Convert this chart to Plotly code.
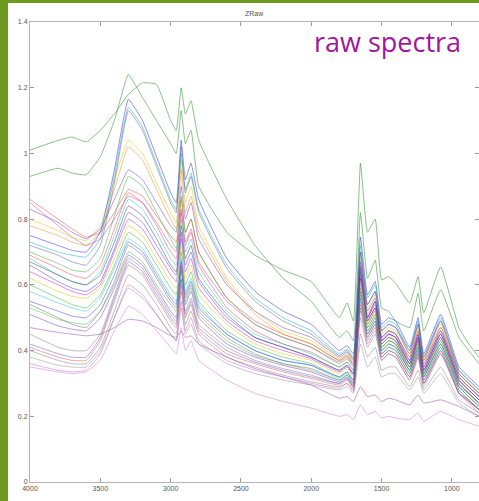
import plotly.graph_objects as go

# wavenumbers (cm-1), shared by every spectrum
wavenumber = [4000, 3800, 3700, 3600, 3500, 3400, 3300, 3200, 3100, 3000, 2960, 2925, 2895, 2855,
              2800, 2600, 2400, 2200, 2000, 1800, 1745, 1700, 1650, 1600, 1545, 1500, 1450, 1400,
              1300, 1240, 1200, 1080, 950, 880, 807]

s01 = [1.01, 1.04, 1.05, 1.035, 1.07, 1.12, 1.18, 1.215, 1.21, 1.10, 1.07, 1.20, 1.12, 1.16, 1.04, 0.86, 0.72, 0.62, 0.55, 0.44, 0.46, 0.43, 0.82, 0.62, 0.675, 0.53, 0.52, 0.49, 0.47, 0.575, 0.46, 0.585, 0.44, 0.40, 0.36]
s02 = [0.93, 0.955, 0.94, 0.935, 0.99, 1.10, 1.24, 1.17, 1.10, 1.03, 1.00, 1.13, 1.03, 1.07, 0.90, 0.76, 0.69, 0.645, 0.61, 0.50, 0.545, 0.49, 0.97, 0.76, 0.80, 0.615, 0.625, 0.605, 0.545, 0.625, 0.515, 0.655, 0.47, 0.42, 0.38]
s03 = [0.86, 0.80, 0.77, 0.745, 0.76, 0.82, 0.89, 0.87, 0.81, 0.75, 0.73, 0.86, 0.76, 0.80, 0.70, 0.56, 0.49, 0.45, 0.42, 0.37, 0.385, 0.36, 0.66, 0.50, 0.55, 0.44, 0.46, 0.45, 0.38, 0.46, 0.36, 0.47, 0.33, 0.30, 0.27]
s04 = [0.85, 0.78, 0.745, 0.72, 0.74, 0.80, 0.87, 0.85, 0.79, 0.72, 0.70, 0.82, 0.73, 0.77, 0.67, 0.55, 0.48, 0.44, 0.41, 0.365, 0.38, 0.355, 0.64, 0.49, 0.53, 0.43, 0.45, 0.44, 0.37, 0.45, 0.35, 0.46, 0.32, 0.29, 0.26]
s05 = [0.83, 0.79, 0.76, 0.74, 0.77, 0.86, 0.95, 0.92, 0.85, 0.78, 0.76, 0.90, 0.80, 0.85, 0.74, 0.60, 0.52, 0.47, 0.44, 0.38, 0.395, 0.37, 0.70, 0.54, 0.58, 0.46, 0.48, 0.47, 0.40, 0.48, 0.38, 0.49, 0.34, 0.31, 0.28]
s06 = [0.80, 0.765, 0.745, 0.735, 0.78, 0.92, 1.04, 1.00, 0.91, 0.82, 0.79, 0.98, 0.85, 0.90, 0.78, 0.62, 0.52, 0.46, 0.43, 0.375, 0.39, 0.365, 0.68, 0.53, 0.57, 0.45, 0.47, 0.46, 0.39, 0.47, 0.37, 0.48, 0.33, 0.30, 0.27]
s07 = [0.78, 0.75, 0.73, 0.72, 0.76, 0.89, 1.02, 0.98, 0.89, 0.80, 0.77, 0.95, 0.82, 0.87, 0.76, 0.61, 0.51, 0.45, 0.42, 0.37, 0.385, 0.36, 0.66, 0.51, 0.55, 0.44, 0.46, 0.45, 0.38, 0.46, 0.36, 0.47, 0.32, 0.29, 0.26]
s08 = [0.75, 0.72, 0.705, 0.70, 0.76, 0.95, 1.165, 1.10, 0.99, 0.88, 0.85, 1.04, 0.92, 0.97, 0.86, 0.68, 0.58, 0.52, 0.48, 0.40, 0.415, 0.39, 0.745, 0.57, 0.61, 0.48, 0.50, 0.49, 0.41, 0.50, 0.39, 0.51, 0.35, 0.32, 0.29]
s09 = [0.73, 0.70, 0.69, 0.685, 0.74, 0.93, 1.14, 1.08, 0.97, 0.86, 0.83, 1.00, 0.89, 0.94, 0.83, 0.66, 0.56, 0.50, 0.46, 0.39, 0.405, 0.38, 0.72, 0.56, 0.60, 0.47, 0.49, 0.48, 0.40, 0.49, 0.38, 0.50, 0.34, 0.31, 0.28]
s10 = [0.72, 0.69, 0.67, 0.66, 0.72, 0.91, 1.13, 1.07, 0.96, 0.85, 0.82, 1.02, 0.88, 0.93, 0.82, 0.65, 0.55, 0.49, 0.45, 0.385, 0.40, 0.375, 0.70, 0.54, 0.58, 0.46, 0.48, 0.47, 0.39, 0.48, 0.37, 0.49, 0.33, 0.30, 0.27]
s11 = [0.70, 0.665, 0.645, 0.64, 0.68, 0.81, 0.93, 0.90, 0.82, 0.74, 0.71, 0.87, 0.76, 0.80, 0.70, 0.56, 0.48, 0.44, 0.41, 0.36, 0.375, 0.35, 0.64, 0.49, 0.53, 0.42, 0.44, 0.43, 0.36, 0.44, 0.34, 0.45, 0.31, 0.28, 0.25]
s12 = [0.69, 0.65, 0.63, 0.62, 0.66, 0.77, 0.88, 0.85, 0.78, 0.70, 0.68, 0.83, 0.72, 0.76, 0.66, 0.53, 0.46, 0.42, 0.395, 0.35, 0.365, 0.34, 0.62, 0.48, 0.52, 0.41, 0.43, 0.42, 0.35, 0.43, 0.33, 0.44, 0.30, 0.27, 0.24]
s13 = [0.68, 0.63, 0.61, 0.60, 0.64, 0.75, 0.86, 0.83, 0.76, 0.68, 0.66, 0.80, 0.70, 0.74, 0.64, 0.52, 0.45, 0.42, 0.39, 0.35, 0.365, 0.34, 0.60, 0.47, 0.51, 0.41, 0.43, 0.42, 0.35, 0.42, 0.33, 0.43, 0.30, 0.27, 0.24]
s14 = [0.67, 0.63, 0.61, 0.60, 0.63, 0.73, 0.84, 0.81, 0.74, 0.66, 0.64, 0.78, 0.68, 0.72, 0.62, 0.51, 0.44, 0.41, 0.38, 0.34, 0.355, 0.33, 0.58, 0.46, 0.50, 0.40, 0.42, 0.41, 0.34, 0.41, 0.32, 0.42, 0.29, 0.26, 0.23]
s15 = [0.66, 0.61, 0.59, 0.58, 0.61, 0.71, 0.82, 0.79, 0.72, 0.65, 0.63, 0.76, 0.66, 0.70, 0.61, 0.50, 0.44, 0.41, 0.38, 0.34, 0.355, 0.33, 0.67, 0.52, 0.56, 0.44, 0.46, 0.45, 0.37, 0.45, 0.35, 0.46, 0.32, 0.29, 0.26]
s16 = [0.64, 0.60, 0.58, 0.57, 0.60, 0.70, 0.80, 0.77, 0.70, 0.63, 0.61, 0.74, 0.64, 0.68, 0.59, 0.49, 0.43, 0.40, 0.375, 0.335, 0.35, 0.325, 0.63, 0.50, 0.54, 0.43, 0.45, 0.44, 0.36, 0.44, 0.34, 0.45, 0.31, 0.28, 0.25]
s17 = [0.62, 0.58, 0.565, 0.56, 0.59, 0.68, 0.78, 0.75, 0.68, 0.61, 0.59, 0.72, 0.62, 0.66, 0.57, 0.48, 0.42, 0.39, 0.37, 0.33, 0.345, 0.32, 0.61, 0.48, 0.52, 0.42, 0.44, 0.43, 0.35, 0.43, 0.33, 0.44, 0.30, 0.27, 0.24]
s18 = [0.60, 0.56, 0.54, 0.53, 0.57, 0.66, 0.76, 0.73, 0.66, 0.59, 0.57, 0.70, 0.60, 0.64, 0.55, 0.46, 0.41, 0.38, 0.36, 0.32, 0.335, 0.31, 0.57, 0.45, 0.49, 0.40, 0.42, 0.41, 0.34, 0.41, 0.32, 0.42, 0.29, 0.26, 0.23]
s19 = [0.58, 0.545, 0.53, 0.52, 0.56, 0.65, 0.74, 0.71, 0.64, 0.57, 0.55, 0.68, 0.58, 0.62, 0.54, 0.45, 0.40, 0.37, 0.355, 0.315, 0.33, 0.305, 0.55, 0.44, 0.48, 0.39, 0.41, 0.40, 0.33, 0.40, 0.31, 0.41, 0.28, 0.25, 0.22]
s20 = [0.55, 0.52, 0.505, 0.50, 0.54, 0.63, 0.73, 0.70, 0.63, 0.56, 0.54, 0.67, 0.57, 0.61, 0.53, 0.45, 0.40, 0.37, 0.355, 0.32, 0.335, 0.31, 0.65, 0.50, 0.55, 0.43, 0.45, 0.44, 0.36, 0.44, 0.34, 0.45, 0.31, 0.28, 0.25]
s21 = [0.54, 0.50, 0.48, 0.47, 0.52, 0.61, 0.72, 0.69, 0.62, 0.55, 0.53, 0.65, 0.56, 0.60, 0.52, 0.44, 0.39, 0.36, 0.345, 0.31, 0.325, 0.30, 0.53, 0.43, 0.47, 0.38, 0.40, 0.39, 0.32, 0.39, 0.30, 0.40, 0.27, 0.25, 0.22]
s22 = [0.53, 0.495, 0.485, 0.48, 0.52, 0.60, 0.70, 0.67, 0.60, 0.54, 0.52, 0.64, 0.55, 0.59, 0.51, 0.43, 0.385, 0.36, 0.34, 0.31, 0.325, 0.30, 0.59, 0.47, 0.51, 0.41, 0.43, 0.42, 0.34, 0.42, 0.32, 0.43, 0.29, 0.27, 0.24]
s23 = [0.51, 0.475, 0.465, 0.46, 0.50, 0.59, 0.69, 0.66, 0.59, 0.52, 0.50, 0.66, 0.54, 0.58, 0.50, 0.42, 0.38, 0.355, 0.335, 0.305, 0.32, 0.295, 0.62, 0.49, 0.53, 0.42, 0.44, 0.43, 0.35, 0.43, 0.33, 0.44, 0.30, 0.27, 0.24]
s24 = [0.47, 0.455, 0.45, 0.445, 0.45, 0.47, 0.495, 0.49, 0.47, 0.445, 0.44, 0.46, 0.44, 0.445, 0.42, 0.38, 0.345, 0.32, 0.295, 0.255, 0.26, 0.245, 0.29, 0.26, 0.265, 0.245, 0.255, 0.25, 0.235, 0.265, 0.24, 0.25, 0.23, 0.215, 0.20]
s25 = [0.45, 0.41, 0.40, 0.40, 0.45, 0.57, 0.68, 0.65, 0.58, 0.51, 0.49, 0.62, 0.52, 0.56, 0.48, 0.41, 0.37, 0.345, 0.325, 0.30, 0.315, 0.29, 0.50, 0.41, 0.45, 0.37, 0.39, 0.38, 0.31, 0.38, 0.29, 0.39, 0.27, 0.245, 0.22]
s26 = [0.42, 0.39, 0.38, 0.38, 0.44, 0.56, 0.67, 0.64, 0.57, 0.50, 0.48, 0.615, 0.51, 0.55, 0.47, 0.40, 0.365, 0.34, 0.32, 0.30, 0.315, 0.29, 0.56, 0.45, 0.49, 0.39, 0.41, 0.40, 0.33, 0.40, 0.31, 0.41, 0.28, 0.25, 0.22]
s27 = [0.41, 0.38, 0.37, 0.37, 0.43, 0.55, 0.66, 0.63, 0.56, 0.49, 0.47, 0.60, 0.50, 0.54, 0.46, 0.39, 0.36, 0.335, 0.315, 0.295, 0.31, 0.285, 0.54, 0.44, 0.48, 0.38, 0.40, 0.39, 0.32, 0.39, 0.30, 0.40, 0.27, 0.245, 0.22]
s28 = [0.40, 0.37, 0.36, 0.36, 0.41, 0.52, 0.63, 0.60, 0.54, 0.47, 0.45, 0.58, 0.48, 0.52, 0.45, 0.38, 0.35, 0.325, 0.305, 0.29, 0.30, 0.28, 0.45, 0.38, 0.41, 0.34, 0.35, 0.35, 0.29, 0.34, 0.28, 0.35, 0.25, 0.23, 0.21]
s29 = [0.38, 0.355, 0.35, 0.35, 0.40, 0.50, 0.59, 0.56, 0.51, 0.45, 0.43, 0.53, 0.45, 0.48, 0.42, 0.36, 0.33, 0.31, 0.295, 0.28, 0.29, 0.27, 0.42, 0.35, 0.38, 0.32, 0.33, 0.33, 0.28, 0.32, 0.27, 0.33, 0.24, 0.22, 0.20]
s30 = [0.36, 0.34, 0.335, 0.34, 0.39, 0.50, 0.60, 0.57, 0.51, 0.45, 0.43, 0.55, 0.46, 0.50, 0.43, 0.37, 0.34, 0.32, 0.30, 0.285, 0.30, 0.275, 0.52, 0.42, 0.46, 0.37, 0.39, 0.38, 0.31, 0.38, 0.30, 0.39, 0.27, 0.24, 0.21]
s31 = [0.35, 0.335, 0.33, 0.335, 0.37, 0.46, 0.535, 0.51, 0.46, 0.41, 0.39, 0.47, 0.40, 0.43, 0.37, 0.31, 0.27, 0.245, 0.225, 0.20, 0.205, 0.19, 0.235, 0.205, 0.215, 0.195, 0.20, 0.195, 0.19, 0.21, 0.185, 0.215, 0.19, 0.18, 0.17]

spectra = [s01, s02, s03, s04, s05, s06, s07, s08, s09, s10, s11, s12, s13, s14, s15, s16,
           s17, s18, s19, s20, s21, s22, s23, s24, s25, s26, s27, s28, s29, s30, s31]

line_colors = ["rgba(40,140,40,0.6)", "rgba(40,140,40,0.6)", "rgba(230,40,40,0.5)", "rgba(200,40,160,0.5)",
               "rgba(90,60,200,0.55)", "rgba(220,190,0,0.55)", "rgba(240,130,20,0.55)", "rgba(30,30,220,0.55)",
               "rgba(0,170,200,0.55)", "rgba(90,90,120,0.55)", "rgba(40,160,40,0.5)", "rgba(230,40,40,0.5)",
               "rgba(0,190,190,0.5)", "rgba(60,60,60,0.55)", "rgba(40,40,230,0.5)", "rgba(190,0,190,0.5)",
               "rgba(200,200,0,0.55)", "rgba(40,160,40,0.5)", "rgba(0,190,190,0.5)", "rgba(40,40,230,0.5)",
               "rgba(90,90,90,0.5)", "rgba(60,170,60,0.5)", "rgba(120,40,200,0.55)", "rgba(140,60,180,0.55)",
               "rgba(110,110,110,0.5)", "rgba(70,70,210,0.5)", "rgba(220,60,60,0.5)", "rgba(110,110,110,0.5)",
               "rgba(130,130,130,0.5)", "rgba(190,80,190,0.5)", "rgba(210,110,200,0.55)"]

y_ticks = [0, 0.2, 0.4, 0.6, 0.8, 1, 1.2, 1.4]
y_tick_text = ["0", "0.2", "0.4", "0.6", "0.8", "1", "1.2", "1.4"]
x_ticks = [4000, 3500, 3000, 2500, 2000, 1500, 1000]
x_tick_text = ["4000", "3500", "3000", "2500", "2000", "1500", "1000"]

fig = go.Figure()
for vals, col in zip(spectra, line_colors):
    fig.add_trace(go.Scatter(x=wavenumber, y=vals, mode="lines",
                             line=dict(color=col, width=0.9, shape="spline", smoothing=0.35),
                             hoverinfo="skip", showlegend=False))
# invisible trace on secondary y-axis for right-side ticks
fig.add_trace(go.Scatter(x=[wavenumber[0]], y=[0], yaxis="y2", mode="markers",
                         marker=dict(opacity=0), showlegend=False, hoverinfo="skip"))

tick_font = dict(family="Liberation Sans, Arial, sans-serif", size=7, color="#555555")
fig.update_layout(
    width=479, height=501,
    margin=dict(l=30, r=0, t=22, b=19),
    paper_bgcolor="white", plot_bgcolor="white",
    xaxis=dict(range=[4000, 807], tickvals=x_ticks, ticktext=x_tick_text, ticks="inside", ticklen=4,
               tickcolor="#999999", showline=True, linecolor="#b5b5b5", linewidth=1, mirror="ticks",
               showgrid=False, zeroline=False, tickfont=tick_font),
    yaxis=dict(range=[0, 1.4], tickvals=y_ticks, ticktext=y_tick_text, ticks="inside", ticklen=4,
               tickcolor="#999999", showline=True, linecolor="#b5b5b5", linewidth=1,
               showgrid=False, zeroline=False, tickfont=tick_font),
    yaxis2=dict(range=[0, 1.4], overlaying="y", side="right", tickvals=y_ticks, ticks="inside", ticklen=4,
                tickcolor="#999999", showline=False, showticklabels=False, showgrid=False, zeroline=False),
    shapes=[
        dict(type="rect", xref="paper", yref="paper", x0=-30/449, x1=-22/449, y0=-19/460, y1=482/460,
             fillcolor="#6f9a22", line=dict(width=0), layer="above"),
        dict(type="rect", xref="paper", yref="paper", x0=-30/449, x1=1.0, y0=479/460, y1=482/460,
             fillcolor="#6f9a22", line=dict(width=0), layer="above"),
    ],
    annotations=[
        dict(text="ZRaw", xref="paper", yref="paper", x=0.5, y=1, yshift=9, showarrow=False,
             xanchor="center", yanchor="middle", font=dict(family="Liberation Sans, Arial", size=7, color="#555555")),
        dict(text="raw spectra", xref="paper", yref="paper", x=(312-30)/449, y=(482-42)/460, showarrow=False,
             xanchor="left", yanchor="middle", font=dict(family="Open Sans", size=27, color="#a0169e")),
    ],
)
fig.write_html("out.html")
